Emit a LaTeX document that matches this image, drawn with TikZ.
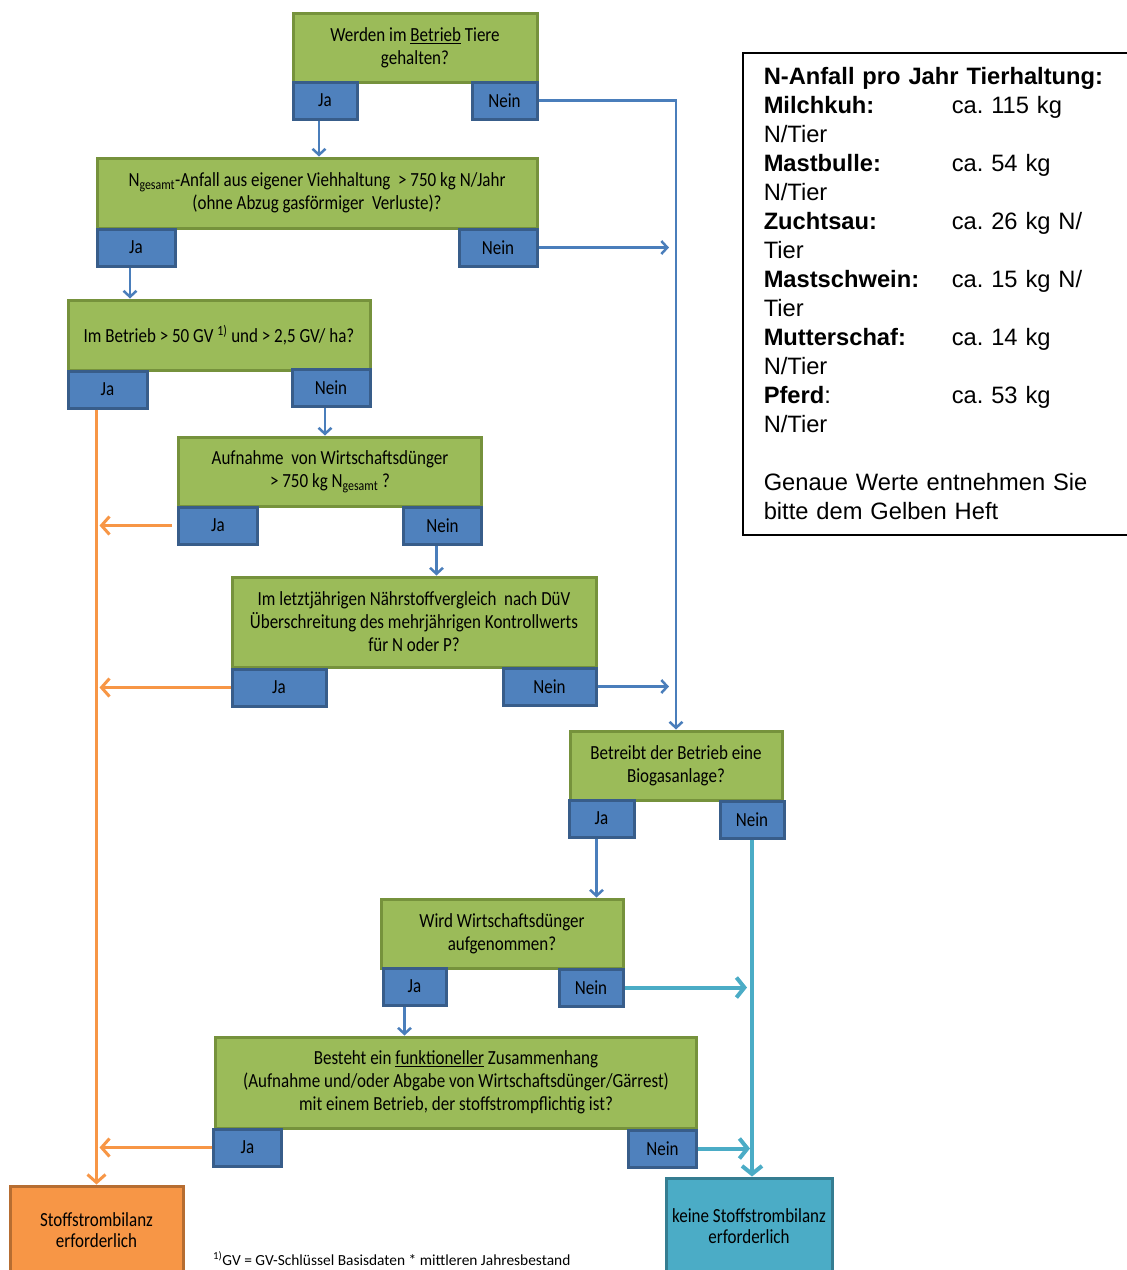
\documentclass[tikz,border=0pt]{standalone}
\usepackage{fontspec}
\setmainfont{Liberation Sans}
\newfontfamily\boxfont{Carlito}[FakeStretch=0.85]
\newfontfamily\notefont{Carlito}
\usepackage{tikz}
\usetikzlibrary{positioning, arrows.meta}
\definecolor{frageGruen}{HTML}{9BBB59}
\definecolor{frageRand}{HTML}{76923C}
\definecolor{antwortBlau}{HTML}{4F81BD}
\definecolor{antwortRand}{HTML}{385D8A}
\definecolor{pflichtOrange}{HTML}{F79646}
\definecolor{pflichtRand}{HTML}{B66D31}
\definecolor{keineTuerkis}{HTML}{4BACC6}
\definecolor{keineRand}{HTML}{357D91}
\definecolor{pfeilBlau}{HTML}{4A7EBB}
\newcommand{\tierzeile}[2]{\makebox[188pt][l]{#1}#2}
\frenchspacing

\begin{document}
\begin{tikzpicture}[x=1pt, y=-1pt,
        frage/.style={draw=frageRand, fill=frageGruen, line width=3pt, align=center, inner sep=2pt, font=\boxfont\fontsize{20}{23}\selectfont},
        antwort/.style={draw=antwortRand, fill=antwortBlau, line width=3pt, minimum height=37pt, inner sep=2pt, font=\boxfont\fontsize{20}{23}\selectfont},
        ergebnis/.style={line width=3pt, align=center, inner sep=2pt, font=\boxfont\fontsize{20}{21}\selectfont},
        infobox/.style={draw=black, line width=1.5pt, text width=345pt, align=left, inner xsep=21pt, inner ysep=15pt, font=\fontsize{23.7}{29}\selectfont},
        arrow/.style={-{Straight Barb[length=6pt,width=13pt]}, line width=2.5pt, draw=pfeilBlau},
        jaArrow/.style={-{Straight Barb[length=8pt,width=18pt]}, line width=3pt, draw=pflichtOrange},
        neinArrow/.style={-{Straight Barb[length=8pt,width=20pt]}, line width=4pt, draw=keineTuerkis}
    ]
    \clip (0,0) rectangle (1127,1270);

    % Nodes
    \node[frage, minimum width=244pt, minimum height=69pt] (tiere) at (415,47.5) {Werden im \underline{Betrieb} Tiere\\gehalten?};
    \node[antwort, minimum width=64pt, below right=-3pt and 0pt of tiere.south west] (tiereJa) {Ja};
    \node[antwort, minimum width=65pt, below left=-3pt and 0pt of tiere.south east] (tiereNein) {Nein};

    \node[frage, minimum width=440pt, minimum height=70pt] (anfall) at (317,193) {N\textsubscript{gesamt}-Anfall aus eigener Viehhaltung~ > 750 kg N/Jahr\\(ohne Abzug gasförmiger~ Verluste)?};
    \node[antwort, minimum width=78pt, below right=-2pt and 0pt of anfall.south west] (anfallJa) {Ja};
    \node[antwort, minimum width=78pt, below left=-2pt and 0pt of anfall.south east] (anfallNein) {Nein};

    \node[frage, minimum width=302pt, minimum height=70pt] (gv) at (219,335) {Im Betrieb > 50 GV \textsuperscript{1)} und > 2,5 GV/ ha?};
    \node[antwort, minimum width=79pt, below right=-2pt and 0pt of gv.south west] (gvJa) {Ja};
    \node[antwort, minimum width=78pt, below left=-4pt and 0pt of gv.south east] (gvNein) {Nein};

    \node[frage, minimum width=303pt, minimum height=69pt] (aufnahme) at (330,471.5) {Aufnahme~ von Wirtschaftsdünger\\> 750 kg N\textsubscript{gesamt} ?};
    \node[antwort, minimum width=79pt, below right=-2pt and 0pt of aufnahme.south west] (aufnahmeJa) {Ja};
    \node[antwort, minimum width=78pt, below left=-2pt and 0pt of aufnahme.south east] (aufnahmeNein) {Nein};

    \node[frage, minimum width=364pt, minimum height=90pt] (vergleich) at (414,622) {Im letztjährigen Nährstoffvergleich~ nach DüV\\Überschreitung des mehrjährigen Kontrollwerts\\für N oder P?};
    \node[antwort, minimum width=94pt, below right=-1pt and 0pt of vergleich.south west] (vergleichJa) {Ja};
    \node[antwort, minimum width=93pt, below left=-2pt and 0pt of vergleich.south east] (vergleichNein) {Nein};

    \node[frage, minimum width=212pt, minimum height=69pt] (biogas) at (676,765.5) {Betreibt der Betrieb eine\\Biogasanlage?};
    \node[antwort, minimum width=65pt, below right=-3pt and -1pt of biogas.south west] (biogasJa) {Ja};
    \node[antwort, minimum width=64pt, below left=-2pt and -2pt of biogas.south east] (biogasNein) {Nein};

    \node[frage, minimum width=242pt, minimum height=69pt] (wdAufnahme) at (502,933.5) {Wird Wirtschaftsdünger\\aufgenommen?};
    \node[antwort, minimum width=63pt, below right=-3pt and 2pt of wdAufnahme.south west] (wdAufnahmeJa) {Ja};
    \node[antwort, minimum width=64pt, below left=-2pt and 0pt of wdAufnahme.south east] (wdAufnahmeNein) {Nein};

    \node[frage, minimum width=481pt, minimum height=91pt] (zusammenhang) at (456,1082.5) {Besteht ein \underline{funktioneller} Zusammenhang\\(Aufnahme und/oder Abgabe von Wirtschaftsdünger/Gärrest)\\mit einem Betrieb, der stoffstrompflichtig ist?};
    \node[antwort, minimum width=68pt, below right=-2pt and -2pt of zusammenhang.south west] (zusammenhangJa) {Ja};
    \node[antwort, minimum width=68pt, below left=-1pt and 0pt of zusammenhang.south east] (zusammenhangNein) {Nein};

    \node[ergebnis, draw=pflichtRand, fill=pflichtOrange, minimum width=173pt, minimum height=88pt] (pflicht) at (96.5,1230) {Stoffstrombilanz\\erforderlich};
    \node[ergebnis, draw=keineRand, fill=keineTuerkis, minimum width=166pt, minimum height=96pt] (keine) at (749,1226) {keine Stoffstrombilanz\\erforderlich};

    \node[anchor=base west, inner sep=0pt, font=\notefont\fontsize{15.4}{18}\selectfont] (fussnote) at (213,1265) {\textsuperscript{1)}GV = GV-Schlüssel Basisdaten * mittleren Jahresbestand};

    \node[infobox, anchor=north west] (info) at (742,52) {\textbf{N-Anfall pro Jahr Tierhaltung:}\\
        \tierzeile{\textbf{Milchkuh:}}{ca. 115 kg}\\N/Tier\\
        \tierzeile{\textbf{Mastbulle:}}{ca. 54 kg}\\N/Tier\\
        \tierzeile{\textbf{Zuchtsau:}}{ca. 26 kg N/}\\Tier\\
        \tierzeile{\textbf{Mastschwein:}}{ca. 15 kg N/}\\Tier\\
        \tierzeile{\textbf{Mutterschaf:}}{ca. 14 kg}\\N/Tier\\
        \tierzeile{\textbf{Pferd}:}{ca. 53 kg}\\N/Tier\\[29pt]
        Genaue Werte entnehmen Sie\\bitte dem Gelben Heft};

    % Arrows
    \draw[arrow] ([xshift=-6pt]tiereJa.south) -- ([xshift=-6pt]tiereJa.south |- anfall.north);
    \draw[arrow] (tiereNein.east) -- (tiereNein.east -| biogas.north) -- (biogas.north);
    \draw[arrow] ([xshift=-6pt]anfallJa.south) -- ([xshift=-6pt]anfallJa.south |- gv.north);
    \draw[arrow] (anfallNein.east) -- ([xshift=-7pt]anfallNein.east -| biogas.north);
    \draw[arrow] ([xshift=-6pt]gvNein.south) -- ([xshift=-6pt]gvNein.south |- aufnahme.north);
    \draw[arrow] ([xshift=-6pt]aufnahmeNein.south) -- ([xshift=-6pt]aufnahmeNein.south |- vergleich.north);
    \draw[arrow] (vergleichNein.east) -- ([xshift=-7pt]vergleichNein.east -| biogas.north);
    \draw[arrow] ([xshift=-5pt]biogasJa.south) -- ([xshift=-5pt]biogasJa.south |- wdAufnahme.north);
    \draw[arrow] ([xshift=-10pt]wdAufnahmeJa.south) -- ([xshift=-10pt]wdAufnahmeJa.south |- zusammenhang.north);

    \draw[jaArrow] (gvJa.south -| pflicht.north) -- (pflicht.north);
    \draw[jaArrow] ([xshift=-5pt]aufnahmeJa.west) -- ([xshift=3pt]aufnahmeJa.west -| pflicht.north);
    \draw[jaArrow] (vergleichJa.west) -- ([xshift=3pt]vergleichJa.west -| pflicht.north);
    \draw[jaArrow] (zusammenhangJa.west) -- ([xshift=3pt]zusammenhangJa.west -| pflicht.north);

    \draw[neinArrow] (biogasNein.south) -- (biogasNein.south |- keine.north);
    \draw[neinArrow] (wdAufnahmeNein.east) -- ([xshift=-5pt]wdAufnahmeNein.east -| biogasNein.south);
    \draw[neinArrow] (zusammenhangNein.east) -- ([xshift=-2pt]zusammenhangNein.east -| biogasNein.south);

\end{tikzpicture}
\end{document}
